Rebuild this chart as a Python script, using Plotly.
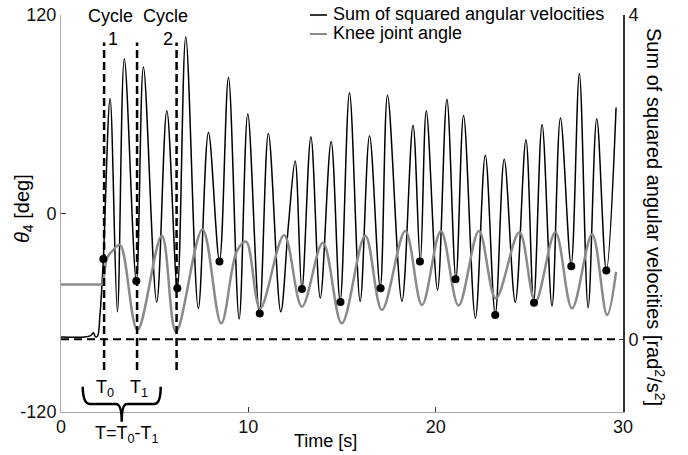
import plotly.graph_objects as go

# ---- data ----
# Sum of squared angular velocities [rad^2/s^2] (right axis)
sq_t = [0.00, 1.28, 1.60, 1.73, 1.84, 1.95, 2.08, 2.26, 2.62, 3.01, 3.38, 4.02, 4.40, 5.11, 5.65,
        6.21, 6.66, 7.33, 7.87, 8.46, 8.94, 9.51, 9.97, 10.59, 11.07, 11.73, 12.14, 12.50, 12.86,
        13.34, 13.84, 14.42, 14.90, 15.40, 15.97, 16.47, 17.04, 17.43, 18.20, 18.79, 19.18, 19.50,
        20.10, 20.60, 21.08, 21.49, 22.12, 22.65, 23.18, 23.66, 24.25, 24.82, 25.23, 25.68, 26.21,
        26.66, 27.23, 27.67, 28.14, 28.60, 29.11, 29.63]
sq_v = [0.03, 0.03, 0.05, 0.08, 0.03, 0.04, 0.30, 0.99, 2.97, 0.34, 3.46, 0.72, 3.36, 0.46, 2.82,
        0.63, 3.73, 0.38, 2.55, 0.97, 3.23, 0.25, 2.78, 0.32, 2.54, 0.34, 1.41, 2.20, 0.62,
        2.50, 0.51, 2.44, 0.47, 3.04, 0.47, 2.51, 0.64, 3.01, 0.47, 2.64, 0.96, 2.82,
        0.61, 2.96, 0.75, 2.76, 0.26, 2.27, 0.31, 2.22, 0.46, 2.46, 0.46, 2.65, 0.41,
        2.73, 0.92, 3.28, 0.39, 2.72, 0.85, 2.86]

# Knee joint angle theta_4 [deg] (left axis)
knee_t = [0.00, 1.90, 2.10, 2.19, 2.30, 2.46, 2.78, 3.15, 4.08, 5.38, 6.14, 7.55, 8.55, 9.39, 9.88,
          10.63, 11.91, 12.86, 13.98, 14.99, 16.24, 17.13, 18.38, 19.27, 20.28, 21.22, 22.31,
          23.21, 24.47, 25.32, 26.39, 27.28, 28.35, 29.15, 29.63]
knee_deg = [-42.9, -42.9, -42.9, -42.9, -37.2, -26.9, -22.1, -19.0, -70.4, -13.4, -71.5, -9.6, -66.4,
            -22.7, -17.0, -57.3, -13.2, -56.3, -17.7, -66.4, -13.4, -58.3, -10.6, -55.3, -10.6,
            -55.6, -10.6, -51.3, -11.4, -53.3, -11.4, -57.3, -12.6, -61.4, -35.2]

# Marked points on the velocity curve
dot_t = [2.26, 4.02, 6.21, 8.46, 10.61, 12.86, 14.92, 17.06, 19.16, 21.06, 23.18, 25.25, 27.24, 29.11]
dot_v = [0.99, 0.72, 0.63, 0.96, 0.32, 0.62, 0.46, 0.63, 0.96, 0.74, 0.30, 0.45, 0.90, 0.85]

cycle_t = [2.30, 4.06, 6.17]

x_ticks = [0, 10, 20, 30]
left_ticks = [-120, 0, 120]
left_ticktext = ["-120", "0", "120"]
right_ticks = [0, 4]

FONT = "Arial, Liberation Sans, sans-serif"
W, H = 688, 455
L, R, T, B = 61, 623, 15, 412  # plot area in window pixels


def pxx(x):
    return (x - L) / (R - L)


def pxy(y):
    return (B - y) / (B - T)


fig = go.Figure()
fig.add_trace(go.Scatter(x=sq_t, y=sq_v, mode="lines", yaxis="y",
                         line=dict(color="black", width=1.5, shape="spline", smoothing=1),
                         showlegend=False, hoverinfo="skip"))
fig.add_trace(go.Scatter(x=knee_t, y=knee_deg, mode="lines", yaxis="y2",
                         line=dict(color="#8a8a8a", width=2.5, shape="spline", smoothing=1),
                         showlegend=False, hoverinfo="skip"))
fig.add_trace(go.Scatter(x=dot_t, y=dot_v, mode="markers", yaxis="y3",
                         marker=dict(color="black", size=8),
                         showlegend=False, hoverinfo="skip"))

shapes = []
for t in cycle_t:
    shapes.append(dict(type="line", xref="x", yref="y2", x0=t, x1=t, y0=-94.6, y1=103.3,
                       line=dict(color="black", width=2.5, dash="8px,4px")))
shapes.append(dict(type="line", xref="x", yref="y", x0=0, x1=29.7, y0=0, y1=0,
                   line=dict(color="black", width=2, dash="8px,5px")))


def P(x, y):
    return f"{pxx(x):.5f},{pxy(y):.5f}"


brace = (f"M {P(82.7, 386.7)} Q {P(83, 404)} {P(90, 404)} L {P(116, 404)} "
         f"Q {P(121.7, 404)} {P(121.7, 421.7)} Q {P(121.7, 404)} {P(127, 404)} "
         f"L {P(154, 404)} Q {P(160.7, 404)} {P(160.7, 386.7)}")
shapes.append(dict(type="path", xref="paper", yref="paper", path=brace,
                   line=dict(color="black", width=2.5)))

shapes.append(dict(type="line", xref="paper", yref="paper", x0=pxx(310), x1=pxx(327),
                   y0=pxy(15), y1=pxy(15), line=dict(color="#333333", width=2)))
shapes.append(dict(type="line", xref="paper", yref="paper", x0=pxx(310), x1=pxx(327),
                   y0=pxy(34), y1=pxy(34), line=dict(color="#8a8a8a", width=2)))

ann = []


def text(s, x, y, size=18, xanchor="center", angle=0):
    ann.append(dict(text=s, x=pxx(x), y=pxy(y), xref="paper", yref="paper", showarrow=False,
                    xanchor=xanchor, yanchor="middle", textangle=angle,
                    font=dict(family=FONT, size=size, color="black")))


text("Sum of squared angular velocities", 331, 14, xanchor="left")
text("Knee joint angle", 331, 33, xanchor="left")
text("Cycle", 110, 16)
text("1", 113, 39)
text("Cycle", 165, 16)
text("2", 168, 39)
text("T<sub>0</sub>", 105, 388)
text("T<sub>1</sub>", 139, 388)
text("T=T<sub>0</sub>-T<sub>1</sub>", 127, 434)
text("Time [s]", 325.5, 441)
text("<i>θ</i><sub>4</sub> [deg]", 23, 209, size=20, angle=-90)
text("Sum of squared angular velocities [rad<sup>2</sup>/s<sup>2</sup>]", 655, 217, size=20, angle=90)

tickfont = dict(family=FONT, size=18, color="#111111")

fig.update_layout(
    template="none",
    width=W, height=H,
    margin=dict(l=L, r=W - R, t=T, b=H - B, pad=0, autoexpand=False),
    paper_bgcolor="white", plot_bgcolor="white",
    font=dict(family=FONT, size=18, color="black"),
    showlegend=False,
    xaxis=dict(range=[0, 30], tickvals=x_ticks, ticks="inside", ticklen=5, tickcolor="#333333",
               showline=True, linecolor="#a8a8a8", linewidth=1, showgrid=False, zeroline=False,
               tickfont=tickfont, anchor="y", automargin=False, ticklabelstandoff=-2,
               ticklabeloverflow="allow"),
    yaxis=dict(side="right", range=[-0.896, 4], tickvals=right_ticks, ticks="inside", ticklen=4,
               tickcolor="#333333", showline=True, linecolor="#333333", linewidth=2,
               showgrid=False, zeroline=False, tickfont=tickfont, anchor="x", automargin=False,
               ticklabeloverflow="allow"),
    yaxis2=dict(overlaying="y", side="left", anchor="x", range=[-120, 120], tickvals=left_ticks,
                ticktext=left_ticktext, ticks="inside", ticklen=5, tickcolor="#333333",
                showline=True, linecolor="#a8a8a8", linewidth=1, showgrid=False, zeroline=False,
                tickfont=tickfont, automargin=False, ticklabeloverflow="allow"),
    yaxis3=dict(overlaying="y", side="right", anchor="x", range=[-0.896, 4], visible=False,
                automargin=False),
    shapes=shapes,
    annotations=ann,
)

# the page's default body margin would push the figure 8px in; remove it
fig.write_html("out.html", config={"displayModeBar": False, "staticPlot": True},
               post_script="document.body.style.margin='0px';")
